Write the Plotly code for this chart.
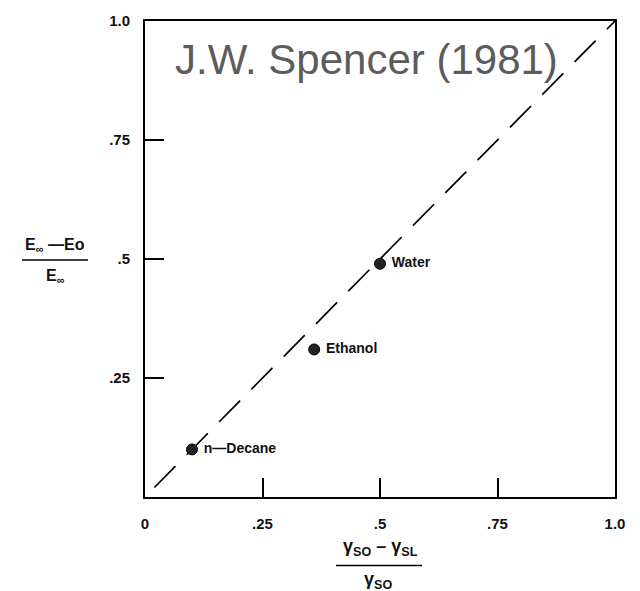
import plotly.graph_objects as go

liquids = ["n\u2014Decane", "Ethanol", "Water"]
x_vals = [0.10, 0.36, 0.50]
y_vals = [0.10, 0.31, 0.49]
fit_x = [0.02, 1.0]
fit_y = [0.02, 1.0]
x_ticks = [0, 0.25, 0.5, 0.75, 1.0]
x_ticktext = ["0", ".25", ".5", ".75", "1.0"]
y_ticks = [0.25, 0.5, 0.75, 1.0]
y_ticktext = [".25", ".5", ".75", "1.0"]

FONT = "Liberation Sans, Arial"
L, R, T, B = 145, 25, 17, 94
W, H = 640, 591
plot_w = W - L - R
plot_h = H - T - B


def pxx(px):
    return (px - L) / plot_w


def pxy(py):
    return (H - B - py) / plot_h


fig = go.Figure()
fig.add_trace(go.Scatter(x=fit_x, y=fit_y, mode="lines",
                         line=dict(color="black", width=1.7, dash="30px,16px"),
                         hoverinfo="skip", showlegend=False))
fig.add_trace(go.Scatter(x=x_vals, y=y_vals, mode="markers+text",
                         text=[" " + t for t in liquids], textposition="middle right",
                         textfont=dict(family=FONT, size=14, color="#111", weight="bold"),
                         marker=dict(color="#222", size=11, line=dict(color="black", width=1)),
                         showlegend=False))

axis_common = dict(range=[0, 1], showgrid=False, zeroline=False, showline=True,
                   linecolor="black", linewidth=2, mirror=True, ticks="inside",
                   ticklen=19, tickwidth=1.5, tickcolor="black",
                   tickfont=dict(family=FONT, size=15, color="#111", weight="bold"))
fig.update_xaxes(**axis_common, tickvals=x_ticks, ticktext=x_ticktext, ticklabelstandoff=12)
fig.update_yaxes(**axis_common, tickvals=y_ticks, ticktext=y_ticktext, ticklabelstandoff=10)

fig.add_annotation(x=pxx(366), y=pxy(56), xref="paper", yref="paper", text="J.W. Spencer (1981)",
                   xanchor="center", yanchor="middle",
                   showarrow=False, font=dict(family=FONT, size=42, color="#5c5c5c"))

# y-axis label fraction
fig.add_annotation(x=pxx(55), y=pxy(243), xref="paper", yref="paper",
                   text="E<sub>\u221e</sub> \u2014Eo", xanchor="center", yanchor="middle",
                   showarrow=False, font=dict(family=FONT, size=16, color="#111", weight="bold"))
fig.add_shape(type="line", xref="paper", yref="paper", x0=pxx(22), x1=pxx(88),
              y0=pxy(258), y1=pxy(258), line=dict(color="black", width=1.4))
fig.add_annotation(x=pxx(55), y=pxy(275), xref="paper", yref="paper",
                   text="E<sub>\u221e</sub>", xanchor="center", yanchor="middle",
                   showarrow=False, font=dict(family=FONT, size=16, color="#111", weight="bold"))

# x-axis label fraction
fig.add_annotation(x=pxx(380), y=pxy(548), xref="paper", yref="paper",
                   text="\u03b3<sub>SO</sub> \u2013 \u03b3<sub>SL</sub>", xanchor="center", yanchor="middle",
                   showarrow=False, font=dict(family=FONT, size=18, color="#111", weight="bold"))
fig.add_shape(type="line", xref="paper", yref="paper", x0=pxx(336), x1=pxx(422),
              y0=pxy(566), y1=pxy(566), line=dict(color="black", width=1.4))
fig.add_annotation(x=pxx(378), y=pxy(581), xref="paper", yref="paper",
                   text="\u03b3<sub>SO</sub>", xanchor="center", yanchor="middle",
                   showarrow=False, font=dict(family=FONT, size=18, color="#111", weight="bold"))

fig.update_layout(
    width=W, height=H,
    margin=dict(l=L, r=R, t=T, b=B),
    paper_bgcolor="white", plot_bgcolor="white",
)

fig.write_html("out.html")
